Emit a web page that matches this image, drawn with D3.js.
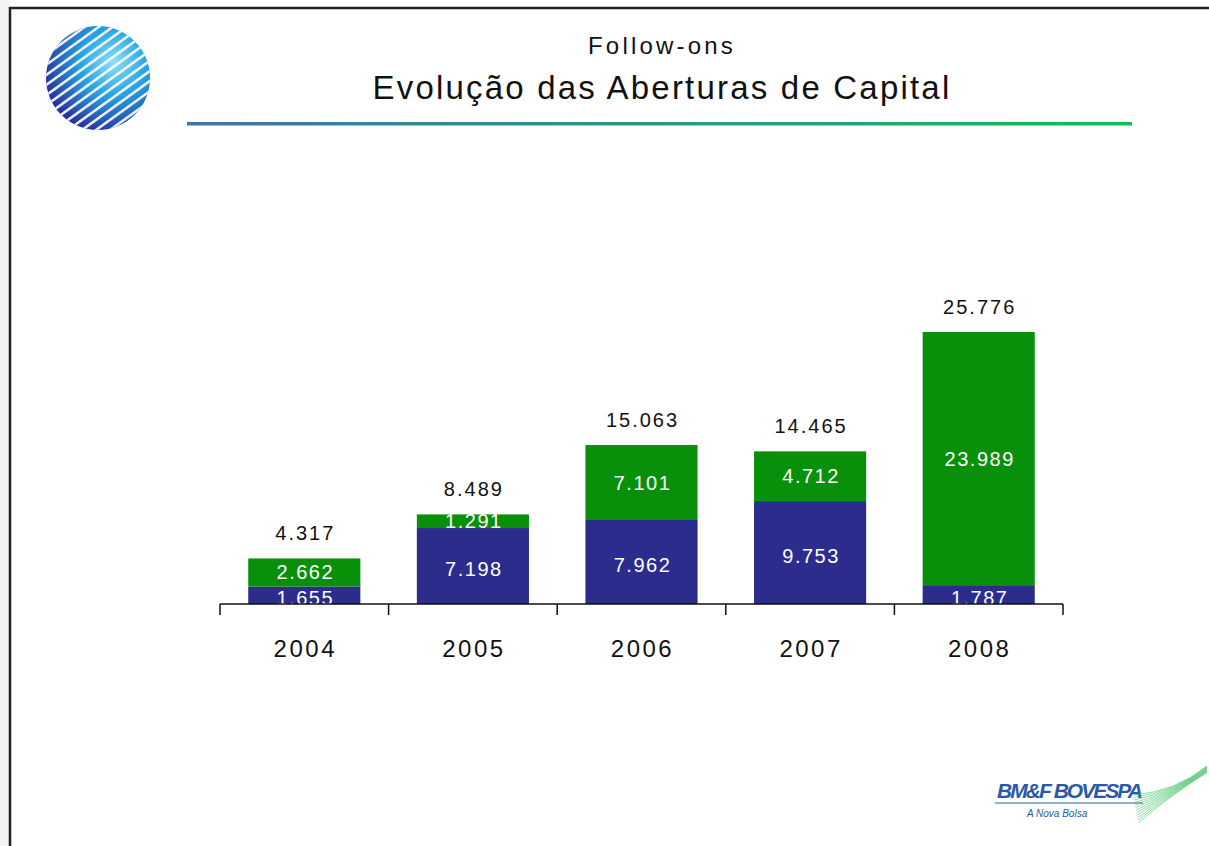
<!DOCTYPE html>
<html>
<head>
<meta charset="utf-8">
<script src="https://d3js.org/d3.v7.min.js"></script>
<style>
  body { margin: 0; background: #fff; }
  svg { display: block; font-family: "Liberation Sans", Arial, sans-serif; }
</style>
</head>
<body>
<script>
// values (R$ milhões)
var years = ["2004", "2005", "2006", "2007", "2008"];
var bottomSeries = [1655, 7198, 7962, 9753, 1787];   // blue
var topSeries = [2662, 1291, 7101, 4712, 23989];     // green
var totals = [4317, 8489, 15063, 14465, 25776];

var W = 1209, H = 846;
var blue = "#2b2c8c", green = "#08900a";

var svg = d3.select("body").append("svg")
  .attr("width", W).attr("height", H);

var defs = svg.append("defs");

// left strip + frame
svg.append("rect").attr("x", 0).attr("y", 0).attr("width", 9).attr("height", H).attr("fill", "#f3f4f6");
svg.append("path")
  .attr("d", "M10," + H + "V8H" + W)
  .attr("fill", "none").attr("stroke", "#222").attr("stroke-width", 2.5);

// globe logo
var glob = defs.append("radialGradient").attr("id", "glob")
  .attr("cx", "65%").attr("cy", "35%").attr("r", "72%");
glob.append("stop").attr("offset", "0%").attr("stop-color", "#8ee0fa");
glob.append("stop").attr("offset", "45%").attr("stop-color", "#2aa3e0");
glob.append("stop").attr("offset", "100%").attr("stop-color", "#2a2b9a");
defs.append("clipPath").attr("id", "globClip")
  .append("circle").attr("cx", 98).attr("cy", 78).attr("r", 52);
var g0 = svg.append("g");
g0.append("circle").attr("cx", 98).attr("cy", 78).attr("r", 52).attr("fill", "url(#glob)");
var stripes = g0.append("g").attr("clip-path", "url(#globClip)");
d3.range(-6, 7).forEach(function(i) {
  stripes.append("line")
    .attr("x1", 98 - 90 + i * 14).attr("y1", 78 + 65)
    .attr("x2", 98 + 90 + i * 14).attr("y2", 78 - 65)
    .attr("stroke", "#fff").attr("stroke-width", 2.6).attr("opacity", 0.9);
});

// titles
svg.append("text").attr("x", 662).attr("y", 54).attr("text-anchor", "middle")
  .attr("font-size", 24).attr("letter-spacing", 3.2).attr("fill", "#111").text("Follow-ons");
svg.append("text").attr("x", 662).attr("y", 99).attr("text-anchor", "middle")
  .attr("font-size", 33).attr("letter-spacing", 2.2).attr("fill", "#111").text("Evolução das Aberturas de Capital");

var lineGrad = defs.append("linearGradient").attr("id", "lineGrad");
lineGrad.append("stop").attr("offset", "0%").attr("stop-color", "#4272a8");
lineGrad.append("stop").attr("offset", "55%").attr("stop-color", "#2a9a88");
lineGrad.append("stop").attr("offset", "100%").attr("stop-color", "#0fbf4f");
svg.append("rect").attr("x", 187).attr("y", 122).attr("width", 945).attr("height", 3.5)
  .attr("fill", "url(#lineGrad)");

// chart
var baseY = 604;
var x = d3.scaleBand().domain(years).range([220, 1063])
  .paddingInner(0.335).paddingOuter(0.1675);
var y = d3.scaleLinear().domain([0, 25776]).range([baseY, 332]);

var data = years.map(function(yr, i) {
  return { year: yr, b: bottomSeries[i], t: topSeries[i], total: totals[i] };
});

var bars = svg.append("g").selectAll("g").data(data).enter().append("g");

bars.append("rect")
  .attr("x", function(d) { return x(d.year); })
  .attr("width", x.bandwidth())
  .attr("y", function(d) { return y(d.b); })
  .attr("height", function(d) { return baseY - y(d.b); })
  .attr("fill", blue);

bars.append("rect")
  .attr("x", function(d) { return x(d.year); })
  .attr("width", x.bandwidth())
  .attr("y", function(d) { return y(d.b + d.t); })
  .attr("height", function(d) { return y(d.b) - y(d.b + d.t); })
  .attr("fill", green);

var fmt = function(v) { return d3.format(",")(v).replace(",", "."); };
var cx = function(d) { return x(d.year) + x.bandwidth() / 2 + 1; };

bars.append("text")
  .attr("x", cx)
  .attr("y", function(d) { return (y(d.b) + baseY) / 2 + 10; })
  .attr("text-anchor", "middle").attr("font-size", 20).attr("letter-spacing", 1.5).attr("fill", "#fff")
  .text(function(d) { return fmt(d.b); });

bars.append("text")
  .attr("x", cx)
  .attr("y", function(d) { return (y(d.b) + y(d.b + d.t)) / 2 + 7; })
  .attr("text-anchor", "middle").attr("font-size", 20).attr("letter-spacing", 1.5).attr("fill", "#fff")
  .text(function(d) { return fmt(d.t); });

bars.append("text")
  .attr("x", cx)
  .attr("y", function(d) { return y(d.total) - 18; })
  .attr("text-anchor", "middle").attr("font-size", 20).attr("letter-spacing", 2).attr("fill", "#111")
  .text(function(d) { return fmt(d.total); });

// axis: baseline, ticks at category boundaries
var axis = svg.append("g");
axis.append("line").attr("x1", 220).attr("x2", 1063).attr("y1", baseY).attr("y2", baseY)
  .attr("stroke", "#111").attr("stroke-width", 1.5);
var bounds = years.map(function(yr) { return x(yr) - x.step() * x.paddingInner() / 2; })
  .concat([1063]);
axis.selectAll(".tk").data(bounds).enter().append("line")
  .attr("x1", function(d) { return d; }).attr("x2", function(d) { return d; })
  .attr("y1", baseY).attr("y2", baseY + 11)
  .attr("stroke", "#111").attr("stroke-width", 1.5);
axis.selectAll(".yl").data(years).enter().append("text")
  .attr("x", function(d) { return x(d) + x.bandwidth() / 2 + 1; })
  .attr("y", 657).attr("text-anchor", "middle")
  .attr("font-size", 24).attr("letter-spacing", 2.5).attr("fill", "#111")
  .text(function(d) { return d; });

// BM&F BOVESPA logo
var lg = svg.append("g");
lg.append("text").attr("x", 997).attr("y", 798).attr("font-size", 21).attr("font-weight", "bold")
  .attr("font-style", "italic").attr("fill", "#2a5aa6").attr("textLength", 146)
  .text("BM&F BOVESPA");
lg.append("line").attr("x1", 995).attr("x2", 1143).attr("y1", 803).attr("y2", 803)
  .attr("stroke", "#2a5aa6").attr("stroke-width", 1.2);
lg.append("text").attr("x", 1027).attr("y", 817).attr("font-size", 10)
  .attr("font-style", "italic").attr("fill", "#2a5aa6").text("A Nova Bolsa");
d3.range(0, 12).forEach(function(i) {
  lg.append("path")
    .attr("d", "M" + (1133 + i * 0.5) + "," + (795 + i * 2.5) + " Q" + (1175) + "," + (792) + " " + (1207) + "," + (766 + i * 0.6))
    .attr("fill", "none").attr("stroke", "#3fbf5f").attr("stroke-width", 0.7).attr("opacity", 0.8);
});
</script>
</body>
</html>
